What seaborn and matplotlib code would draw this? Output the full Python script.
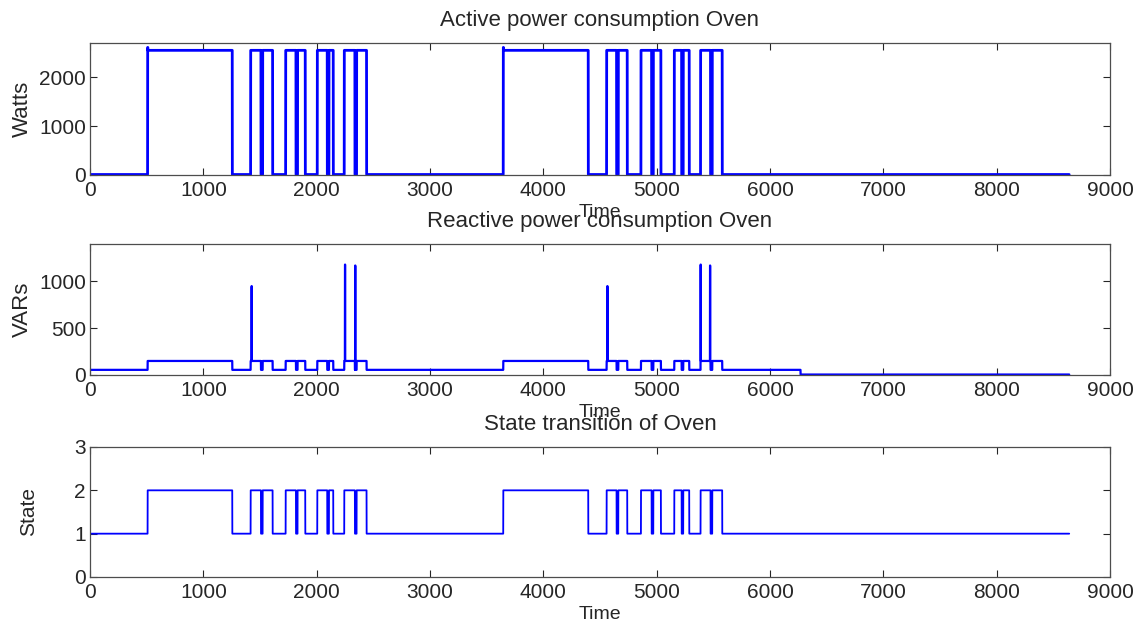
import numpy as np
import pandas as pd
import matplotlib
matplotlib.use("Agg")
import matplotlib.pyplot as plt
import seaborn as sns

# Oven operating intervals (time index, one sample per unit)
on_start = [509, 1418, 1524, 1727, 1832, 2006, 2109, 2244, 2353,
            3647, 4559, 4662, 4862, 4971, 5156, 5235, 5388, 5491]
on_end = [1256, 1509, 1612, 1818, 1900, 2094, 2147, 2338, 2441,
          4397, 4647, 4741, 4956, 5038, 5221, 5288, 5476, 5579]

# Active power levels (W)
active_off = 10
active_on = 2550
active_overshoot = 2610          # first samples of each long heating block

# Reactive power levels (VAR)
reactive_on = 150
reactive_idle = 55
reactive_standby = 5
reactive_idle_until = 6270
spike_times = [1426, 2250, 2340, 4565, 5388, 5471]
spike_values = [950, 1180, 1170, 950, 1180, 1170]

# States
state_off = 1
state_on = 2

n_samples = 8641
time = np.arange(n_samples)

active = np.full(n_samples, float(active_off))
reactive = np.full(n_samples, float(reactive_idle))
reactive[reactive_idle_until:] = reactive_standby
state = np.full(n_samples, float(state_off))
for s, e in zip(on_start, on_end):
    active[s:e] = active_on
    reactive[s:e] = reactive_on
    state[s:e] = state_on
    if e - s > 300:
        active[s:s + 2] = active_overshoot
for t, v in zip(spike_times, spike_values):
    reactive[t:t + 2] = v

df = pd.DataFrame({"Time": time, "Active": active,
                   "Reactive": reactive, "State": state})

sns.set_theme(style="ticks")
plt.rcParams["font.family"] = ["Liberation Sans", "DejaVu Sans"]
plt.rcParams["xtick.direction"] = "in"
plt.rcParams["ytick.direction"] = "in"
plt.rcParams["xtick.top"] = True
plt.rcParams["ytick.right"] = True

W, H = 1144, 628
fig = plt.figure(figsize=(W / 100, H / 100), dpi=100)
left, right = 90, 1110
boxes = [(43, 175), (244, 375), (447, 577)]
axes = []
for top, bot in boxes:
    ax = fig.add_axes([left / W, 1 - bot / H, (right - left) / W, (bot - top) / H])
    axes.append(ax)

specs = [
    ("Active", "Watts", 16, -0.056, "Active power consumption Oven", (0, 2700), [0, 1000, 2000], 2.0),
    ("Reactive", "VARs", 16, -0.056, "Reactive power consumption Oven", (0, 1400), [0, 500, 1000], 1.6),
    ("State", "State", 15, -0.051, "State transition of Oven", (0, 3), [0, 1, 2, 3], 1.3),
]

for ax, (col, ylab, yfs, ylx, title, ylim, yticks, lw) in zip(axes, specs):
    sns.lineplot(data=df, x="Time", y=col, ax=ax, color="#0000ff",
                 linewidth=lw, estimator=None, sort=False)
    ax.set_xlim(0, 9000)
    ax.set_ylim(*ylim)
    ax.set_xticks(range(0, 9001, 1000))
    ax.set_yticks(yticks)
    ax.tick_params(labelsize=15, length=5, width=0.8, colors="0.15")
    ax.tick_params(axis="x", pad=4)
    ax.tick_params(axis="y", pad=3)
    ax.set_xlabel("Time", fontsize=14, labelpad=3)
    ax.set_ylabel(ylab, fontsize=yfs)
    ax.yaxis.set_label_coords(ylx, 0.5)
    ax.set_title(title, fontsize=16, pad=12)
    for sp in ax.spines.values():
        sp.set_color("0.3")
        sp.set_linewidth(0.9)
        sp.set_visible(True)

fig.savefig("out.png", dpi=100, facecolor="white")
